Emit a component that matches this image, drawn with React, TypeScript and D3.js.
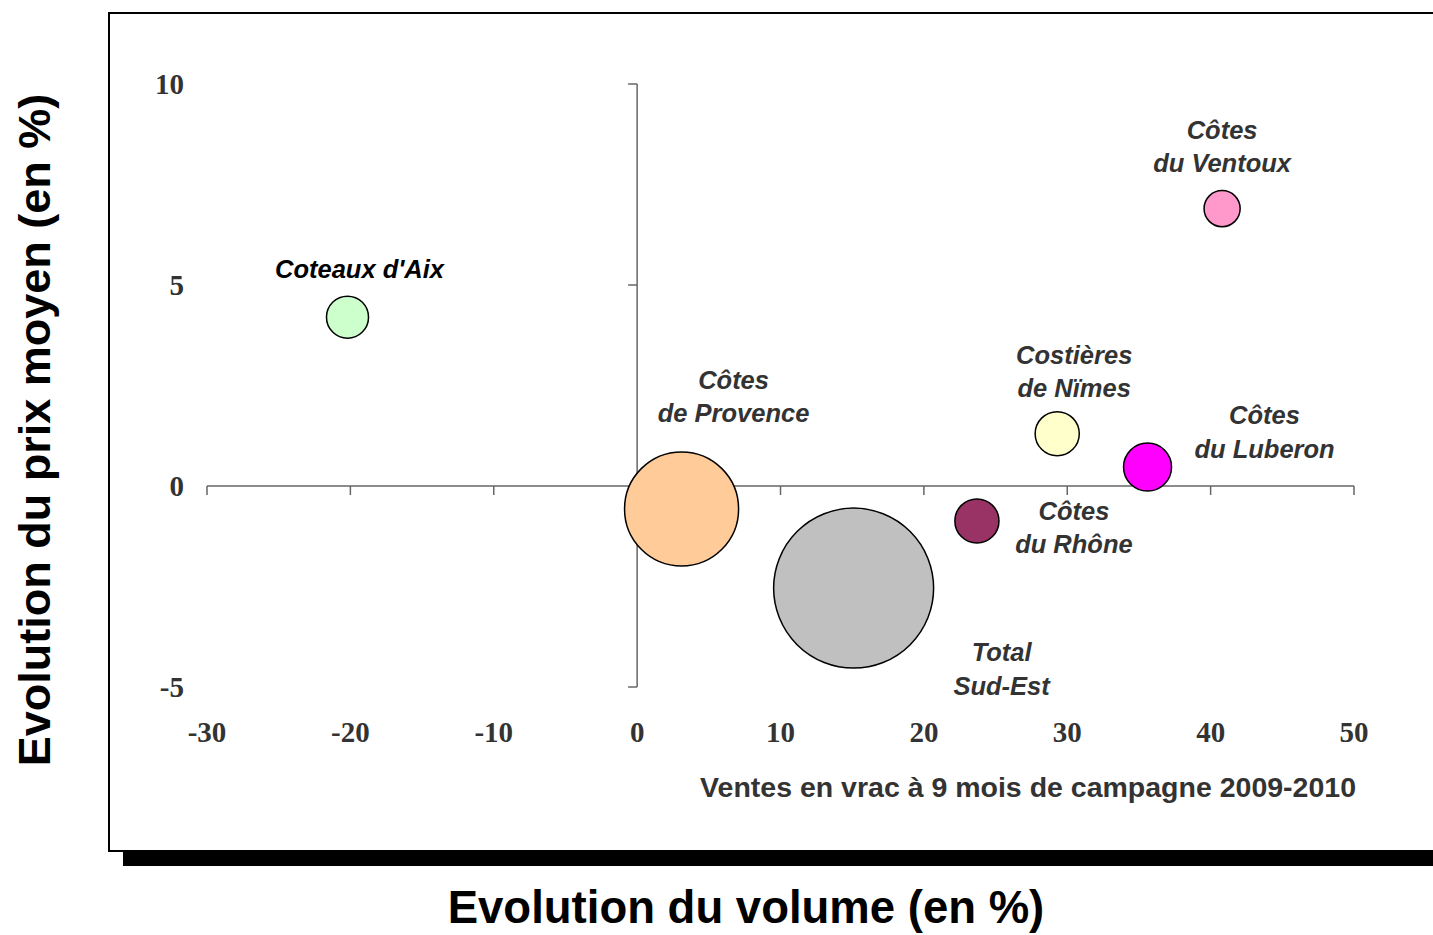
import React from "react";
import * as d3 from "d3";

const WIDTH = 1433;
const HEIGHT = 935;

// appellations: evolution du volume (%), evolution du prix (%), volume (taille)
const names = [
  "Coteaux d'Aix",
  "Côtes du Ventoux",
  "Costières de Nïmes",
  "Côtes du Luberon",
  "Côtes du Rhône",
  "Côtes de Provence",
  "Total Sud-Est",
];
const labelLines = [
  ["Coteaux d'Aix"],
  ["Côtes", "du Ventoux"],
  ["Costières", "de Nïmes"],
  ["Côtes", "du Luberon"],
  ["Côtes", "du Rhône"],
  ["Côtes", "de Provence"],
  ["Total", "Sud-Est"],
];
const volumeChange = [-20.2, 40.8, 29.3, 35.6, 23.7, 3.1, 15.1];
const priceChange = [4.2, 6.9, 1.3, 0.47, -0.87, -0.57, -2.54];
const bubbleSize = [6.9, 5.1, 7.6, 9.0, 7.6, 50.8, 100];
const colors = ["#CCFFCC", "#FF99CC", "#FFFFCC", "#FF00FF", "#993366", "#FFCC99", "#C0C0C0"];

const xTicks = [-30, -20, -10, 0, 10, 20, 30, 40, 50];
const yTicks = [-5, 0, 5, 10];

// label placement relative to bubble centre (pixels)
const labelOffset: [number, number][] = [
  [12, -39],
  [0, -70],
  [17, -70],
  [117, -43],
  [97, -1],
  [52, -120],
  [148, 73],
];

const App = () => {
  const x = d3.scaleLinear().domain([-30, 50]).range([207, 1354]);
  const y = d3.scaleLinear().domain([-5, 10]).range([687, 84]);
  const r = d3.scaleSqrt().domain([0, 100]).range([0, 80]);

  const order = d3.range(names.length).sort((a, b) => bubbleSize[b] - bubbleSize[a]);
  const axisColor = "#666";
  const textColor = "#333";
  const sans = "'Liberation Sans', Arial, sans-serif";
  const serif = "'Liberation Serif', 'Times New Roman', serif";

  return (
    <svg width={WIDTH} height={HEIGHT} style={{ position: "absolute", left: 0, top: 0 }}>
      <rect x={0} y={0} width={WIDTH} height={HEIGHT} fill="#fff" />
      {/* chart frame with shadow */}
      <rect x={123} y={851} width={WIDTH - 123} height={15} fill="#000" />
      <rect x={109} y={13} width={WIDTH} height={838} fill="#fff" stroke="#000" strokeWidth={2} />

      {/* axes */}
      <line x1={x(-30)} x2={x(50)} y1={y(0)} y2={y(0)} stroke={axisColor} strokeWidth={1.5} />
      <line x1={x(0)} x2={x(0)} y1={y(10)} y2={y(-5)} stroke={axisColor} strokeWidth={1.5} />
      {xTicks.map((t) => (
        <line key={"xt" + t} x1={x(t)} x2={x(t)} y1={y(0)} y2={y(0) + 9} stroke={axisColor} strokeWidth={1.5} />
      ))}
      {yTicks.map((t) => (
        <line key={"yt" + t} x1={x(0) - 9} x2={x(0)} y1={y(t)} y2={y(t)} stroke={axisColor} strokeWidth={1.5} />
      ))}
      {xTicks.map((t) => (
        <text
          key={"xl" + t}
          x={x(t)}
          y={742}
          textAnchor="middle"
          fontFamily={serif}
          fontWeight="bold"
          fontSize={29}
          fill={textColor}
        >
          {t}
        </text>
      ))}
      {yTicks.map((t) => (
        <text
          key={"yl" + t}
          x={184}
          y={y(t) + 10}
          textAnchor="end"
          fontFamily={serif}
          fontWeight="bold"
          fontSize={29}
          fill={textColor}
        >
          {t}
        </text>
      ))}

      {/* bubbles */}
      {order.map((i) => (
        <circle
          key={names[i]}
          cx={x(volumeChange[i])}
          cy={y(priceChange[i])}
          r={r(bubbleSize[i])}
          fill={colors[i]}
          stroke="#000"
          strokeWidth={1.5}
        />
      ))}

      {/* bubble labels */}
      {names.map((n, i) => (
        <text
          key={"lab" + n}
          x={x(volumeChange[i]) + labelOffset[i][0]}
          y={y(priceChange[i]) + labelOffset[i][1]}
          textAnchor="middle"
          fontFamily={sans}
          fontWeight="bold"
          fontStyle="italic"
          fontSize={25.5}
          fill={i === 0 ? "#000" : textColor}
        >
          {labelLines[i].map((line, j) => (
            <tspan key={j} x={x(volumeChange[i]) + labelOffset[i][0]} dy={j === 0 ? 0 : 33.5}>
              {line}
            </tspan>
          ))}
        </text>
      ))}

      <text x={1356} y={797} textAnchor="end" fontFamily={sans} fontWeight="bold" fontSize={28.5} fill={textColor}>
        Ventes en vrac à 9 mois de campagne 2009-2010
      </text>

      {/* axis titles */}
      <text
        transform={`translate(50,430) rotate(-90)`}
        textAnchor="middle"
        fontFamily={sans}
        fontWeight="bold"
        fontSize={45}
        fill="#000"
      >
        Evolution du prix moyen (en %)
      </text>
      <text x={746} y={923} textAnchor="middle" fontFamily={sans} fontWeight="bold" fontSize={45.5} fill="#000">
        Evolution du volume (en %)
      </text>
    </svg>
  );
};

export default App;
